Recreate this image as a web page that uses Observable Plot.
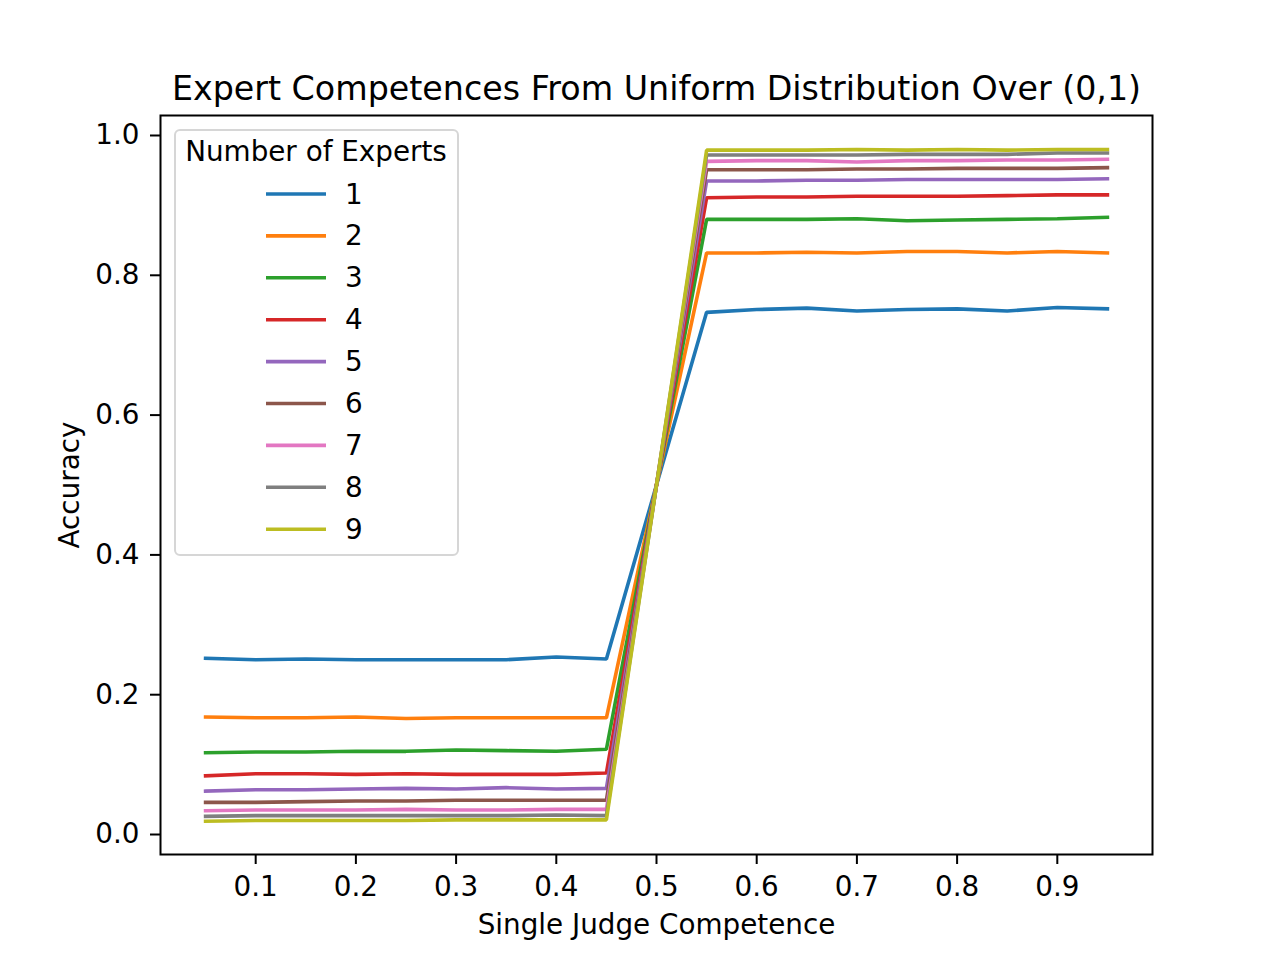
<!DOCTYPE html>
<html>
<head>
<meta charset="utf-8">
<script src="https://cdn.jsdelivr.net/npm/d3@7"></script>
<script src="https://cdn.jsdelivr.net/npm/@observablehq/plot@0.6"></script>
<style>
  html, body { margin: 0; padding: 0; background: #fff; }
  #wrap { position: relative; width: 1280px; height: 960px; font-family: "DejaVu Sans", sans-serif; }
  #legend { position: absolute; left: 0; top: 0; }
</style>
</head>
<body>
<div id="wrap"></div>
<script>
const competence = [0.05,0.10,0.15,0.20,0.25,0.30,0.35,0.40,0.45,0.50,0.55,0.60,0.65,0.70,0.75,0.80,0.85,0.90,0.95];

const experts1 = [0.252,0.250,0.251,0.250,0.250,0.250,0.250,0.254,0.251,0.5,0.747,0.751,0.753,0.749,0.751,0.752,0.749,0.754,0.752];
const experts2 = [0.168,0.167,0.167,0.168,0.166,0.167,0.167,0.167,0.167,0.5,0.832,0.832,0.833,0.832,0.834,0.834,0.832,0.834,0.832];
const experts3 = [0.117,0.118,0.118,0.119,0.119,0.121,0.120,0.119,0.122,0.5,0.880,0.880,0.880,0.881,0.878,0.879,0.880,0.881,0.883];
const experts4 = [0.084,0.087,0.087,0.086,0.087,0.086,0.086,0.086,0.088,0.5,0.911,0.912,0.912,0.913,0.913,0.913,0.914,0.915,0.915];
const experts5 = [0.062,0.064,0.064,0.065,0.066,0.065,0.067,0.065,0.066,0.5,0.935,0.935,0.936,0.936,0.937,0.937,0.937,0.937,0.938];
const experts6 = [0.046,0.046,0.047,0.048,0.048,0.049,0.049,0.049,0.049,0.5,0.951,0.951,0.951,0.952,0.952,0.953,0.953,0.953,0.954];
const experts7 = [0.034,0.035,0.035,0.035,0.036,0.035,0.035,0.036,0.036,0.5,0.963,0.964,0.964,0.962,0.964,0.964,0.965,0.965,0.966];
const experts8 = [0.026,0.027,0.027,0.027,0.027,0.027,0.027,0.028,0.027,0.5,0.972,0.972,0.972,0.972,0.973,0.973,0.973,0.975,0.975];
const experts9 = [0.019,0.020,0.020,0.020,0.020,0.021,0.021,0.021,0.021,0.5,0.979,0.979,0.979,0.980,0.979,0.980,0.979,0.980,0.980];

const seriesNames = ["1","2","3","4","5","6","7","8","9"];
const seriesValues = [experts1,experts2,experts3,experts4,experts5,experts6,experts7,experts8,experts9];
const colors = ["#1f77b4","#ff7f0e","#2ca02c","#d62728","#9467bd","#8c564b","#e377c2","#7f7f7f","#bcbd22"];

const xTicks = [0.1,0.2,0.3,0.4,0.5,0.6,0.7,0.8,0.9];
const yTicks = [0.0,0.2,0.4,0.6,0.8,1.0];

const titleText = "Expert Competences From Uniform Distribution Over (0,1)";
const xLabel = "Single Judge Competence";
const yLabel = "Accuracy";
const legendTitle = "Number of Experts";

const rows = [];
seriesNames.forEach((name, i) => {
  competence.forEach((c, j) => rows.push({series: name, x: c, y: seriesValues[i][j]}));
});

const FONT = "DejaVu Sans, sans-serif";
const FS = 27.8;
const FS_TITLE = 33.3;

const chart = Plot.plot({
  width: 1280,
  height: 960,
  marginLeft: 160,
  marginRight: 128,
  marginTop: 115,
  marginBottom: 106,
  style: {fontFamily: FONT, fontSize: FS + "px", background: "white", color: "black"},
  x: {domain: [0.005, 0.995]},
  y: {domain: [-0.0286, 1.0286]},
  color: {domain: seriesNames, range: colors},
  marks: [
    Plot.line(rows, {x: "x", y: "y", z: "series", stroke: "series", strokeWidth: 3.6, strokeLinejoin: "miter", strokeLinecap: "square"}),
    Plot.frame({stroke: "black", strokeWidth: 2}),
    Plot.axisX({ticks: xTicks, tickFormat: d3.format(".1f"), tickSize: 10, tickPadding: 12, strokeWidth: 2, fontSize: FS, label: null}),
    Plot.axisY({ticks: yTicks, tickFormat: d3.format(".1f"), tickSize: 10, tickPadding: 11, strokeWidth: 2, fontSize: FS, label: null}),
    Plot.text([titleText], {frameAnchor: "top", dy: -16, lineAnchor: "bottom", text: d => d, fontSize: FS_TITLE, fill: "black"}),
    Plot.text([xLabel], {frameAnchor: "bottom", dy: 79, lineAnchor: "bottom", text: d => d, fontSize: FS, fill: "black"}),
    Plot.text([yLabel], {frameAnchor: "left", dx: -82, rotate: -90, textAnchor: "middle", lineAnchor: "bottom", text: d => d, fontSize: FS, fill: "black"})
  ]
});

const wrap = document.getElementById("wrap");
wrap.appendChild(chart);

// Legend overlay
const lg = d3.select(wrap).append("svg")
  .attr("id", "legend")
  .attr("width", 1280).attr("height", 960)
  .style("font-family", FONT);

lg.append("rect")
  .attr("x", 175).attr("y", 130).attr("width", 283).attr("height", 425)
  .attr("rx", 5).attr("ry", 5)
  .attr("fill", "rgba(255,255,255,0.8)")
  .attr("stroke", "#d6d6d6").attr("stroke-width", 2);

lg.append("text")
  .attr("x", 316).attr("y", 161)
  .attr("text-anchor", "middle").attr("font-size", FS)
  .text(legendTitle);

seriesNames.forEach((name, i) => {
  const cy = 194 + i * 41.9;
  lg.append("line")
    .attr("x1", 266).attr("x2", 326).attr("y1", cy).attr("y2", cy)
    .attr("stroke", colors[i]).attr("stroke-width", 3.6);
  lg.append("text")
    .attr("x", 345).attr("y", cy + 9.5)
    .attr("font-size", FS)
    .text(name);
});
</script>
</body>
</html>
